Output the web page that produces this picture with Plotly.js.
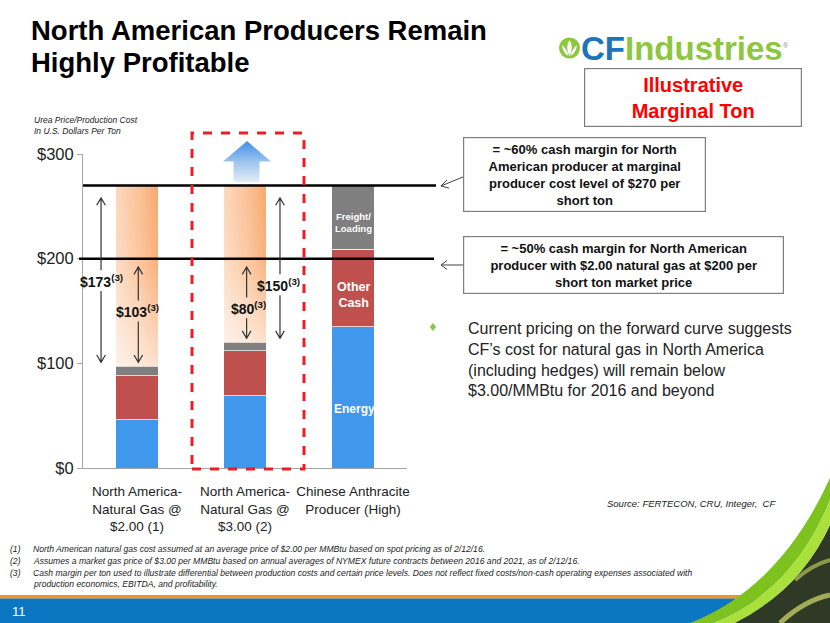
<!DOCTYPE html>
<html><head><meta charset="utf-8">
<script src="https://cdn.plot.ly/plotly-3.0.1.min.js"></script>
<style>html,body{margin:0;padding:0;background:#fff;overflow:hidden}#chart{width:830px;height:623px}</style>
</head><body><div id="chart"></div>
<script>
// ---------------- DATA ----------------
const categories = [
  "North America-<br>Natural Gas @<br>$2.00 (1)",
  "North America-<br>Natural Gas @<br>$3.00 (2)",
  "Chinese Anthracite<br>Producer (High)"
];
const energy = [46, 69, 135];
const otherCash = [42, 43, 74];
const freightLoading = [9, 8, 61];
const marginalProducerPrice = 270;
const marketPrice = 200;
const marginAtMarginal = [173, 150];
const marginAtMarket = [103, 80];
const yTickVals = [0, 100, 200, 300];
const yTickText = ["$0", "$100", "$200", "$300"];

// ---------------- LAYOUT HELPERS ----------------
const FONT = "Liberation Sans, Arial, sans-serif";
const L = 83, R = 407, T = 154, B = 468;
const px = x => (x - L) / (R - L);
const py = y => (B - y) / (B - T);
const P = (x, y) => px(x).toFixed(4) + ',' + py(y).toFixed(4);

const xIdx = categories.map((c, i) => i);
const totalCost = energy.map((e, i) => e + otherCash[i] + freightLoading[i]);

const BW = 0.39;
const segLine = {color: 'rgba(255,255,255,0.7)', width: 1};
const traces = [
  {type: 'bar', name: 'Energy', x: xIdx, y: energy, width: BW, marker: {color: '#3f98ec', line: segLine}, hoverinfo: 'skip'},
  {type: 'bar', name: 'Other Cash', x: xIdx, y: otherCash, width: BW, marker: {color: '#c0504d', line: segLine}, hoverinfo: 'skip'},
  {type: 'bar', name: 'Freight/Loading', x: xIdx, y: freightLoading, width: BW, marker: {color: '#7f7f7f', line: segLine}, hoverinfo: 'skip'},
  {type: 'bar', name: 'Margin', x: xIdx.slice(0, 2), y: marginAtMarginal, width: BW, marker: {color: '#fbc39b', line: {width: 0}}, hoverinfo: 'skip'}
];

const shapes = [];
const annotations = [];

// reference price lines
shapes.push({type: 'line', xref: 'paper', yref: 'y', x0: 0, x1: px(436), y0: marginalProducerPrice, y1: marginalProducerPrice,
  line: {color: '#000', width: 2.5}});
shapes.push({type: 'line', xref: 'paper', yref: 'y', x0: px(79), x1: px(434), y0: marketPrice, y1: marketPrice,
  line: {color: '#000', width: 2.5}});

// red dashed highlight box
shapes.push({type: 'rect', xref: 'paper', yref: 'paper', x0: px(192), x1: px(304), y0: py(469), y1: py(133),
  line: {color: '#ee1c25', width: 3, dash: 'dash'}, fillcolor: 'rgba(0,0,0,0)'});

// blue up arrow
const blueArrowIdx = shapes.length;
shapes.push({type: 'path', xref: 'paper', yref: 'paper', line: {width: 0}, fillcolor: '#7fb0ea',
  path: 'M' + P(247, 141) + ' L' + P(223, 161.5) + ' L' + P(233.5, 161.5) + ' L' + P(233.5, 182) + ' L' + P(259.5, 182) +
        ' L' + P(259.5, 161.5) + ' L' + P(271, 161.5) + ' Z'});

// double arrows with label gaps (data coordinates)
const arrowSpecs = [
  {x: -0.333, cat: 0, price: marginalProducerPrice, val: marginAtMarginal[0], ly: 179, lx: -0.333},
  {x: 0.012, cat: 0, price: marketPrice, val: marginAtMarket[0], ly: 150, lx: 0.0},
  {x: 1.015, cat: 1, price: marketPrice, val: marginAtMarket[1], ly: 153, lx: 1.03},
  {x: 1.324, cat: 1, price: marginalProducerPrice, val: marginAtMarginal[1], ly: 175, lx: 1.31}
];
const dx = 0.04, dy = 7;
arrowSpecs.forEach(a => {
  const low = totalCost[a.cat] + 4;
  const high = a.price - (a.price === marginalProducerPrice ? 12 : 8);
  const path = `M${a.x},${high} L${a.x},${a.ly + 10} M${a.x},${a.ly - 10} L${a.x},${low} ` +
    `M${a.x - dx},${high - dy} L${a.x},${high} L${a.x + dx},${high - dy} ` +
    `M${a.x - dx},${low + dy} L${a.x},${low} L${a.x + dx},${low + dy}`;
  shapes.push({type: 'path', xref: 'x', yref: 'y', path: path, line: {color: '#333', width: 1.2}});
  annotations.push({xref: 'x', yref: 'y', x: a.lx, y: a.ly, showarrow: false,
    text: `<b>$${a.val}<sup>(3)</sup></b>`, font: {family: FONT, size: 14, color: '#111'}});
});

// labels inside Chinese bar
annotations.push({xref: 'x', yref: 'y', x: 2, y: 235, showarrow: false, text: '<b>Freight/<br>Loading</b>',
  font: {family: FONT, size: 9.5, color: '#fff'}});
annotations.push({xref: 'x', yref: 'y', x: 2, y: 165, showarrow: false, text: '<b>Other<br>Cash</b>',
  font: {family: FONT, size: 12.5, color: '#fff'}});
annotations.push({xref: 'x', yref: 'y', x: 2.015, y: 56, showarrow: false, text: '<b>Energy</b>',
  font: {family: FONT, size: 12, color: '#fff'}});

// title
annotations.push({xref: 'paper', yref: 'paper', x: px(29), y: py(48), xanchor: 'left', yanchor: 'bottom', showarrow: false,
  text: '<b>North American Producers Remain</b>', font: {family: FONT, size: 27.5, color: '#000'}});
annotations.push({xref: 'paper', yref: 'paper', x: px(29), y: py(80), xanchor: 'left', yanchor: 'bottom', showarrow: false,
  text: '<b>Highly Profitable</b>', font: {family: FONT, size: 27.5, color: '#000'}});

// axis caption
annotations.push({xref: 'paper', yref: 'paper', x: px(32), y: py(113), xanchor: 'left', yanchor: 'top', showarrow: false, align: 'left',
  text: '<i>Urea Price/Production Cost<br>In U.S. Dollars Per Ton</i>', font: {family: FONT, size: 8.5, color: '#222'}});

// logo
shapes.push({type: 'circle', xref: 'paper', yref: 'paper', x0: px(559), x1: px(580), y0: py(58.5), y1: py(37.5),
  fillcolor: '#8dc63f', line: {width: 0}});
shapes.push({type: 'path', xref: 'paper', yref: 'paper', fillcolor: '#fff', line: {width: 0},
  path: 'M' + P(569.5, 40) + ' Q' + P(574, 47) + ' ' + P(569.5, 56) + ' Q' + P(565, 47) + ' ' + P(569.5, 40) + ' Z'});
shapes.push({type: 'path', xref: 'paper', yref: 'paper', fillcolor: '#fff', line: {width: 0},
  path: 'M' + P(562, 45) + ' Q' + P(563, 53) + ' ' + P(568.5, 56) + ' Q' + P(567, 49) + ' ' + P(562, 45) + ' Z'});
shapes.push({type: 'path', xref: 'paper', yref: 'paper', fillcolor: '#fff', line: {width: 0},
  path: 'M' + P(577, 45) + ' Q' + P(576, 53) + ' ' + P(570.5, 56) + ' Q' + P(572, 49) + ' ' + P(577, 45) + ' Z'});
annotations.push({xref: 'paper', yref: 'paper', x: px(579), y: py(49), xanchor: 'left', yanchor: 'middle', showarrow: false,
  text: "<b><span style='color:#1c75bc'>CF</span><span style='color:#8dc63f'>Industries</span></b>",
  font: {family: FONT, size: 33, color: '#8dc63f'}});
annotations.push({xref: 'paper', yref: 'paper', x: px(791), y: py(40), showarrow: false, text: '®',
  font: {family: FONT, size: 7, color: '#888'}});

// Illustrative box
annotations.push({xref: 'paper', yref: 'paper', x: px(693), y: py(97.5), xanchor: 'center', yanchor: 'middle', showarrow: false,
  width: 216, height: 57, borderpad: 0, bordercolor: '#7f7f7f', borderwidth: 1.2, bgcolor: '#fff',
  text: '<b>Illustrative<br>Marginal Ton</b>', font: {family: FONT, size: 20, color: '#ff0000'}});

// margin call-out boxes
annotations.push({xref: 'paper', yref: 'paper', x: px(584.5), y: py(174.5), xanchor: 'center', yanchor: 'middle', showarrow: false,
  width: 241, height: 73, borderpad: 0, bordercolor: '#7f7f7f', borderwidth: 1.2, bgcolor: '#fff',
  text: '<b>= ~60% cash margin for North<br>American producer at marginal<br>producer cost level of $270 per<br>short ton</b>',
  font: {family: FONT, size: 13, color: '#111'}});
annotations.push({xref: 'paper', yref: 'paper', x: px(623.5), y: py(265), xanchor: 'center', yanchor: 'middle', showarrow: false,
  width: 319, height: 56, borderpad: 0, bordercolor: '#7f7f7f', borderwidth: 1.2, bgcolor: '#fff',
  text: '<b>= ~50% cash margin for North American<br>producer with $2.00 natural gas at $200 per<br>short ton market price</b>',
  font: {family: FONT, size: 13, color: '#111'}});
// pointer arrows from boxes
shapes.push({type: 'path', xref: 'paper', yref: 'paper', line: {color: '#444', width: 1},
  path: 'M' + P(463, 177) + ' L' + P(441, 186) + ' M' + P(447, 180) + ' L' + P(441, 186) + ' L' + P(449, 188)});
shapes.push({type: 'path', xref: 'paper', yref: 'paper', line: {color: '#444', width: 1},
  path: 'M' + P(463, 265) + ' L' + P(441, 265) + ' M' + P(447, 260.5) + ' L' + P(441, 265) + ' L' + P(447, 269.5)});

// bullet
annotations.push({xref: 'paper', yref: 'paper', x: px(440), y: py(327), showarrow: false, text: '♦',
  font: {family: 'DejaVu Sans', size: 11, color: '#8dc63f'}});
annotations.push({xref: 'paper', yref: 'paper', x: px(466), y: py(318), xanchor: 'left', yanchor: 'top', showarrow: false, align: 'left',
  text: 'Current pricing on the forward curve suggests<br>CF’s cost for natural gas in North America<br>(including hedges) will remain below<br>$3.00/MMBtu for 2016 and beyond',
  font: {family: FONT, size: 16, color: '#222'}});

// source
annotations.push({xref: 'paper', yref: 'paper', x: px(778), y: py(503), xanchor: 'right', yanchor: 'middle', showarrow: false,
  text: '<i>Source: FERTECON, CRU, Integer,  CF</i>', font: {family: FONT, size: 9.5, color: '#222'}});

// footnotes
const notes = [
  ['(1)', 'North American natural gas cost assumed at an average price of $2.00 per MMBtu based on spot pricing as of 2/12/16.'],
  ['(2)', 'Assumes a market gas price of $3.00 per MMBtu based on annual averages of NYMEX future contracts between 2016 and 2021, as of 2/12/16.'],
  ['(3)', 'Cash margin per ton used to illustrate differential between production costs and certain price levels. Does not reflect fixed costs/non-cash operating expenses associated with'],
  ['', 'production economics, EBITDA, and profitability.']
];
const noteY = [549, 561, 573, 584];
notes.forEach((n, i) => {
  if (n[0]) annotations.push({xref: 'paper', yref: 'paper', x: px(8), y: py(noteY[i]), xanchor: 'left', yanchor: 'middle', showarrow: false,
    text: '<i>' + n[0] + '</i>', font: {family: FONT, size: 8.6, color: '#222'}});
  annotations.push({xref: 'paper', yref: 'paper', x: px(31), y: py(noteY[i]), xanchor: 'left', yanchor: 'middle', showarrow: false,
    text: '<i>' + n[1] + '</i>', font: {family: FONT, size: 8.6, color: '#222'}});
});

// footer bands
shapes.push({type: 'rect', xref: 'paper', yref: 'paper', x0: px(0), x1: px(830), y0: py(598.5), y1: py(595), fillcolor: '#f7941d', line: {width: 0}});
shapes.push({type: 'rect', xref: 'paper', yref: 'paper', x0: px(0), x1: px(830), y0: py(623), y1: py(598.5), fillcolor: '#0b76c1', line: {width: 0}});
// photo region
shapes.push({type: 'path', xref: 'paper', yref: 'paper', fillcolor: '#2e3a25', line: {width: 0},
  path: 'M' + P(735, 623) + ' Q' + P(800, 590) + ' ' + P(830, 525) + ' L' + P(830, 623) + ' Z'});
shapes.push({type: 'path', xref: 'paper', yref: 'paper', line: {color: '#a3ad55', width: 5},
  path: 'M' + P(780, 623) + ' Q' + P(805, 600) + ' ' + P(830, 595)});
shapes.push({type: 'path', xref: 'paper', yref: 'paper', line: {color: '#8d9a45', width: 4},
  path: 'M' + P(795, 580) + ' Q' + P(812, 565) + ' ' + P(830, 560)});
// green swoosh (dark and light bands)
shapes.push({type: 'path', xref: 'paper', yref: 'paper', fillcolor: '#7dc21e', line: {width: 0},
  path: 'M' + P(690, 623) + ' Q' + P(780, 588) + ' ' + P(830, 478) + ' L' + P(830, 500) + ' Q' + P(793, 592) + ' ' + P(712, 623) + ' Z'});
shapes.push({type: 'path', xref: 'paper', yref: 'paper', fillcolor: '#a9e03c', line: {width: 0},
  path: 'M' + P(712, 623) + ' Q' + P(793, 592) + ' ' + P(830, 500) + ' L' + P(830, 525) + ' Q' + P(800, 590) + ' ' + P(735, 623) + ' Z'});

annotations.push({xref: 'paper', yref: 'paper', x: px(10), y: py(611), xanchor: 'left', yanchor: 'middle', showarrow: false,
  text: '11', font: {family: FONT, size: 13, color: '#fff'}});

const layout = {
  width: 830, height: 623,
  margin: {l: L, r: 830 - R, t: T, b: 623 - B, pad: 0},
  paper_bgcolor: '#fff', plot_bgcolor: 'rgba(0,0,0,0)',
  barmode: 'stack', bargap: 0, showlegend: false,
  font: {family: FONT, color: '#222'},
  xaxis: {range: [-0.5, 2.5], tickmode: 'array', tickvals: xIdx, ticktext: categories, ticks: '', tickangle: 0,
    ticklabelstandoff: 11,
    showline: true, linecolor: '#a6a6a6', linewidth: 1, showgrid: false, zeroline: false, fixedrange: true,
    tickfont: {family: FONT, size: 13.5, color: '#222'}},
  yaxis: {range: [0, 300], tickmode: 'array', tickvals: yTickVals, ticktext: yTickText, ticks: 'outside', ticklen: 5,
    tickcolor: '#a6a6a6', showline: true, linecolor: '#a6a6a6', linewidth: 1, showgrid: false, zeroline: false, fixedrange: true,
    tickfont: {family: FONT, size: 16.5, color: '#222'}},
  shapes: shapes, annotations: annotations
};

Plotly.newPlot('chart', traces, layout, {staticPlot: true, displayModeBar: false}).then(gd => {
  const svg = gd.querySelector('svg.main-svg');
  let defs = svg.querySelector('defs');
  if (!defs) { defs = document.createElementNS('http://www.w3.org/2000/svg', 'defs'); svg.insertBefore(defs, svg.firstChild); }
  defs.insertAdjacentHTML('beforeend',
    '<linearGradient id="ogH" x1="0" y1="0" x2="1" y2="0">' +
      '<stop offset="0" stop-color="#fcd9bf"/><stop offset="0.6" stop-color="#fbbf93"/><stop offset="1" stop-color="#f9a86d"/></linearGradient>' +
    '<linearGradient id="ogV" x1="0" y1="0" x2="0" y2="1">' +
      '<stop offset="0" stop-color="#fff"/><stop offset="0.45" stop-color="#e6e6e6"/><stop offset="1" stop-color="#5a5a5a"/></linearGradient>' +
    '<mask id="ogM" maskContentUnits="objectBoundingBox"><rect x="0" y="0" width="1" height="1" fill="url(#ogV)"/></mask>' +
    '<linearGradient id="bgV" x1="0" y1="0" x2="0" y2="1">' +
      '<stop offset="0" stop-color="#3d8ee8"/><stop offset="0.5" stop-color="#9cc3ef"/><stop offset="1" stop-color="#e4ecf6"/></linearGradient>');
  const barTraces = gd.querySelectorAll('.barlayer .trace');
  if (barTraces[3]) barTraces[3].querySelectorAll('path').forEach(p => { p.style.fill = 'url(#ogH)'; p.setAttribute('mask', 'url(#ogM)'); });
  const sp = gd.querySelector('.layer-above .shapelayer path[data-index="' + blueArrowIdx + '"]');
  if (sp) sp.style.fill = 'url(#bgV)';
});
</script>
</body></html>
